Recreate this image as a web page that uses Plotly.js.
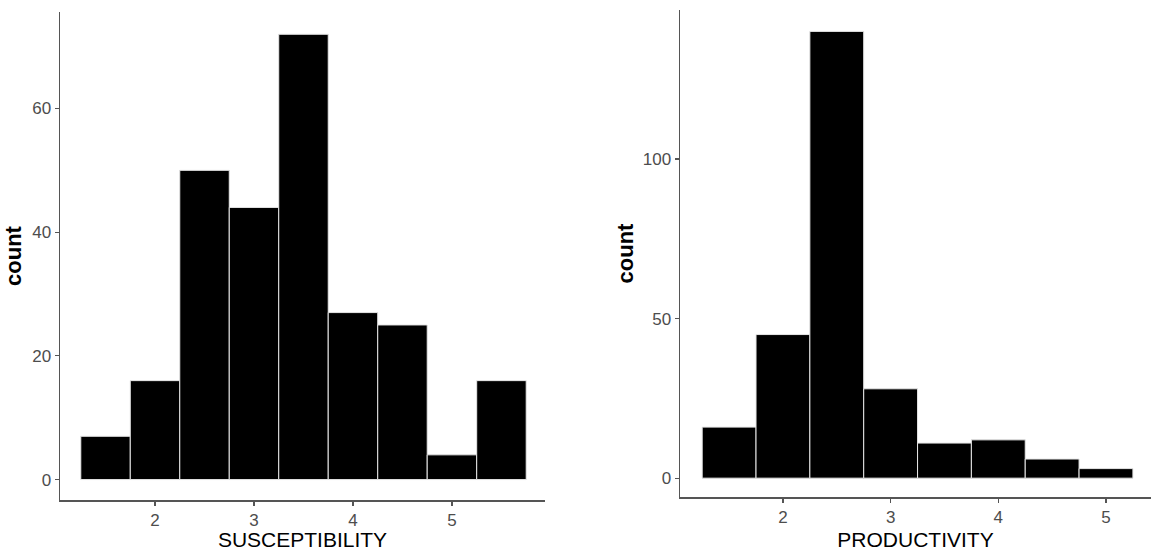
<!DOCTYPE html>
<html>
<head>
<meta charset="utf-8">
<script src="https://cdn.plot.ly/plotly-3.0.1.min.js"></script>
<style>html,body{margin:0;padding:0;background:#fff;}#chart{width:1151px;height:551px;}</style>
</head>
<body>
<div id="chart"></div>
<script>
// Bin centres (bin width 0.5) and counts
const suscBins = [1.5, 2.0, 2.5, 3.0, 3.5, 4.0, 4.5, 5.0, 5.5];
const suscCounts = [7, 16, 50, 44, 72, 27, 25, 4, 16];
const prodBins = [1.5, 2.0, 2.5, 3.0, 3.5, 4.0, 4.5, 5.0];
const prodCounts = [16, 45, 140, 28, 11, 12, 6, 3];
const suscTicks = [2, 3, 4, 5];
const suscYTicks = [0, 20, 40, 60];
const prodTicks = [2, 3, 4, 5];
const prodYTicks = [0, 50, 100];
const binWidth = 0.5;

const barStyle = {color: '#000000', line: {color: '#e6e6e6', width: 1}};

const traces = [
  {type: 'bar', x: suscBins, y: suscCounts, width: binWidth, marker: barStyle, xaxis: 'x', yaxis: 'y', hoverinfo: 'x+y'},
  {type: 'bar', x: prodBins, y: prodCounts, width: binWidth, marker: barStyle, xaxis: 'x2', yaxis: 'y2', hoverinfo: 'x+y'}
];

const tickFont = {family: 'Liberation Sans, Arial, sans-serif', size: 17, color: '#4d4d4d'};
const xTitleFont = {family: 'Liberation Sans, Arial, sans-serif', size: 21, color: '#000'};
const yTitleFont = {family: 'Liberation Sans, Arial, sans-serif', size: 22, color: '#000', weight: 'bold'};

function xAxis(domain, range, ticks, title, anchor) {
  return {
    domain: domain, range: range, tickvals: ticks, ticktext: ticks.map(String),
    showgrid: false, zeroline: false, showline: true, linecolor: '#555', linewidth: 1.5,
    ticks: 'outside', ticklen: 4, tickcolor: '#555', tickwidth: 1.2,
    tickfont: tickFont, anchor: anchor, fixedrange: true,
    title: {text: title, font: xTitleFont, standoff: 6}
  };
}
function yAxis(domain, range, ticks, anchor, standoff) {
  return {
    domain: domain, range: range, tickvals: ticks, ticktext: ticks.map(String),
    showgrid: false, zeroline: false, showline: true, linecolor: '#555', linewidth: 1.5,
    ticks: 'outside', ticklen: 4, tickcolor: '#555', tickwidth: 1.2,
    tickfont: tickFont, anchor: anchor, fixedrange: true,
    title: {text: 'count', font: yTitleFont, standoff: standoff}
  };
}

const layout = {
  width: 1151, height: 551,
  margin: {l: 0, r: 0, t: 0, b: 0},
  paper_bgcolor: '#fff', plot_bgcolor: '#fff',
  showlegend: false, bargap: 0,
  xaxis: xAxis([60/1151, 545/1151], [1.04, 5.94], suscTicks, 'SUSCEPTIBILITY', 'y'),
  yaxis: yAxis([51/551, 539/551], [-3.3, 75.6], suscYTicks, 'x', 4),
  xaxis2: xAxis([680/1151, 1], [1.044, 5.418], prodTicks, 'PRODUCTIVITY', 'y2'),
  yaxis2: yAxis([54/551, 541/551], [-5.9, 146.7], prodYTicks, 'x2', 3)
};

Plotly.newPlot('chart', traces, layout, {displayModeBar: false, staticPlot: true});
</script>
</body>
</html>
